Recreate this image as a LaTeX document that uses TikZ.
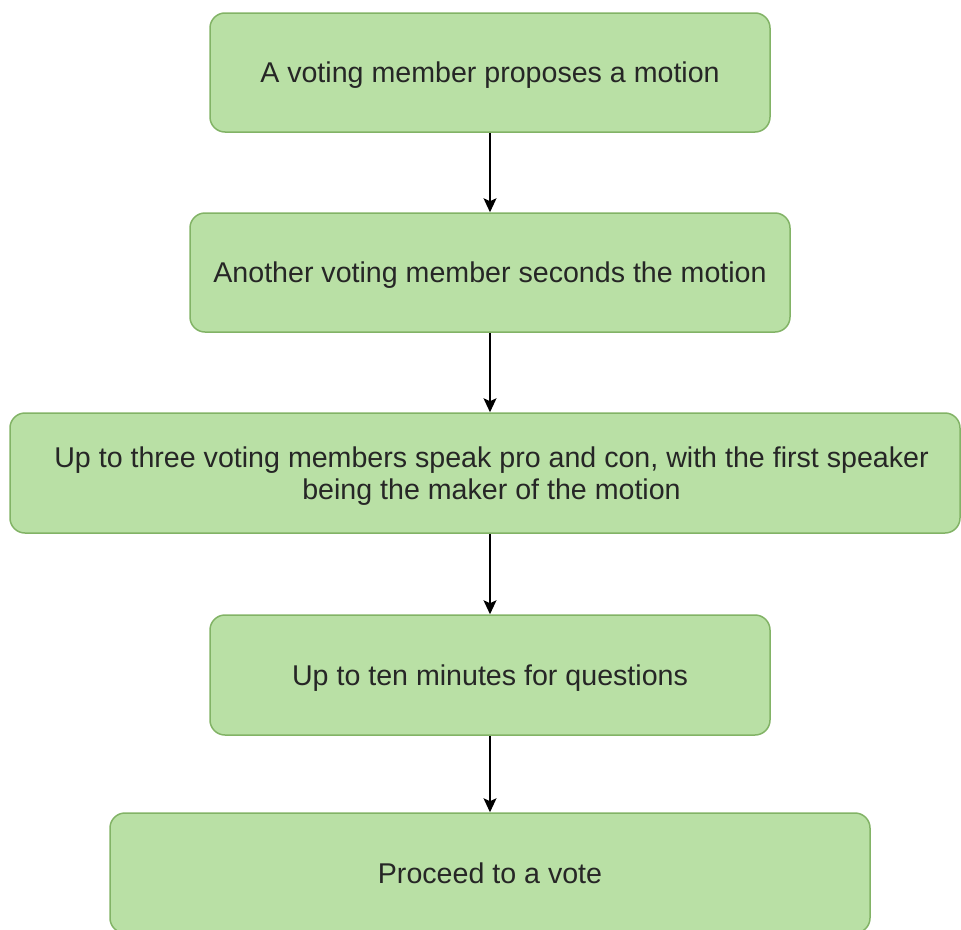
\documentclass[tikz,border=0pt]{standalone}
\usepackage{fontspec}
\setmainfont{Liberation Sans}
\usetikzlibrary{arrows.meta}
\definecolor{boxfill}{HTML}{B9E0A5}
\definecolor{boxline}{HTML}{82B366}
\definecolor{txt}{HTML}{262626}
\tikzset{
  stepbox/.style={rectangle, rounded corners=15pt, draw=boxline, fill=boxfill,
    line width=1.5pt, text=txt, font=\fontsize{28.6}{32.5}\selectfont,
    align=center, inner sep=0pt},
  oneline/.style={text height=20.5pt, text depth=0pt},
  flowarrow/.style={line width=1.5pt, -{Stealth[length=14pt,width=13pt,inset=3pt]}}
}
\begin{document}
\begin{tikzpicture}[x=1pt,y=-1pt]
\useasboundingbox (0,0) rectangle (961,929);
\node[stepbox, oneline, minimum width=560pt, minimum height=119pt] (b1) at (490,72.5) {A voting member proposes a motion};
\node[stepbox, oneline, minimum width=600pt, minimum height=119pt] (b2) at (490,272.5) {Another voting member seconds the motion};
\node[stepbox, text depth=0pt, minimum width=950pt, minimum height=120pt] (b3) at (485,473) {\hspace*{13pt}Up to three voting members speak pro and con, with the first speaker\\\hspace*{13pt}being the maker of the motion};
\node[stepbox, oneline, minimum width=560pt, minimum height=120pt] (b4) at (490,675) {Up to ten minutes for questions};
\node[stepbox, oneline, minimum width=760pt, minimum height=120pt] (b5) at (490,873) {Proceed to a vote};
\draw[flowarrow] (b1.south) -- (b2.north);
\draw[flowarrow] (b2.south) -- (b3.north -| b2.south);
\draw[flowarrow] (b3.south -| b2.south) -- (b4.north);
\draw[flowarrow] (b4.south) -- (b5.north);
\end{tikzpicture}
\end{document}
